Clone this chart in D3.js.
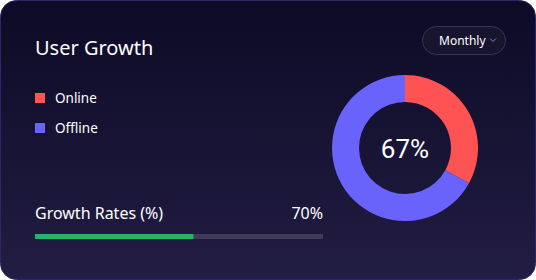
<!DOCTYPE html>
<html>
<head>
<meta charset="utf-8">
<script src="https://cdn.jsdelivr.net/npm/d3@7"></script>
<style>
  html, body { margin: 0; padding: 0; background: #ffffff; }
  svg { display: block; }
</style>
</head>
<body>
<div id="chart"></div>
<script>
// data
const categories = ["Online", "Offline"];
const values = [33, 67];
const colors = ["#ff5252", "#6a63fb"];
const centerLabel = "67%";
const growthLabel = "Growth Rates (%)";
const growthText = "70%";
const growthBar = [55]; // filled share of the bar as drawn
const periodLabel = "Monthly";

const W = 536, H = 280;

const svg = d3.select("#chart").append("svg")
  .attr("width", W)
  .attr("height", H);

const defs = svg.append("defs");
const grad = defs.append("linearGradient")
  .attr("id", "bg")
  .attr("x1", 0).attr("y1", 0).attr("x2", 0).attr("y2", 1);
grad.append("stop").attr("offset", "0%").attr("stop-color", "#0d0a26");
grad.append("stop").attr("offset", "100%").attr("stop-color", "#221d42");

// card
svg.append("rect")
  .attr("x", 0.5).attr("y", 0.5)
  .attr("width", W - 1).attr("height", H - 1)
  .attr("rx", 16)
  .attr("fill", "url(#bg)")
  .attr("stroke", "#2c2766")
  .attr("stroke-width", 1);

const font = "'Noto Sans', Lato, sans-serif";

// title
svg.append("text")
  .attr("x", 35).attr("y", 55)
  .attr("fill", "#ffffff")
  .style("font-family", font)
  .style("font-size", "20px")
  .text("User Growth");

// period button
const btn = svg.append("g").attr("transform", "translate(422,26)");
btn.append("rect")
  .attr("x", 0.5).attr("y", 0.5)
  .attr("width", 83).attr("height", 28)
  .attr("rx", 14)
  .attr("fill", "#17142e")
  .attr("stroke", "#39355a");
btn.append("text")
  .attr("x", 17).attr("y", 19)
  .attr("fill", "#ffffff")
  .style("font-family", font)
  .style("font-size", "12px")
  .text(periodLabel);
btn.append("path")
  .attr("d", "M68,12.5 L71,15.5 L74,12.5")
  .attr("fill", "none")
  .attr("stroke", "#8c89a8")
  .attr("stroke-width", 1);

// legend
const legend = svg.append("g").attr("transform", "translate(35,93)")
  .selectAll("g")
  .data(categories)
  .join("g")
  .attr("transform", (d, i) => `translate(0,${i * 30})`);
legend.append("rect")
  .attr("width", 10).attr("height", 10)
  .attr("fill", (d, i) => colors[i]);
legend.append("text")
  .attr("x", 20).attr("y", 10)
  .attr("fill", "#ffffff")
  .style("font-family", font)
  .style("font-size", "13.5px")
  .text(d => d);

// donut
const cx = 405, cy = 148, outerR = 73, innerR = 46;
const pie = d3.pie().sort(null).value(d => d);
const arc = d3.arc().innerRadius(innerR).outerRadius(outerR);
const donut = svg.append("g").attr("transform", `translate(${cx},${cy})`);
donut.selectAll("path")
  .data(pie(values))
  .join("path")
  .attr("d", arc)
  .attr("fill", (d, i) => colors[i]);
donut.append("text")
  .attr("x", 0).attr("y", 10)
  .attr("text-anchor", "middle")
  .attr("fill", "#ffffff")
  .style("font-family", "Roboto, sans-serif")
  .style("font-weight", 400)
  .style("font-size", "26px")
  .text(centerLabel);

// growth bar
const x = d3.scaleLinear().domain([0, 100]).range([35, 323]);
svg.append("text")
  .attr("x", 35).attr("y", 219)
  .attr("fill", "#ffffff")
  .style("font-family", font)
  .style("font-size", "16px")
  .text(growthLabel);
svg.append("text")
  .attr("x", 323).attr("y", 219)
  .attr("text-anchor", "end")
  .attr("fill", "#ffffff")
  .style("font-family", font)
  .style("font-size", "16px")
  .text(growthText);
svg.append("rect")
  .attr("x", x(0)).attr("y", 234)
  .attr("width", x(100) - x(0)).attr("height", 5)
  .attr("fill", "#403c57");
svg.selectAll("rect.fill")
  .data(growthBar)
  .join("rect")
  .attr("class", "fill")
  .attr("x", x(0)).attr("y", 234)
  .attr("width", d => x(d) - x(0)).attr("height", 5)
  .attr("fill", "#25b36c");
</script>
</body>
</html>
